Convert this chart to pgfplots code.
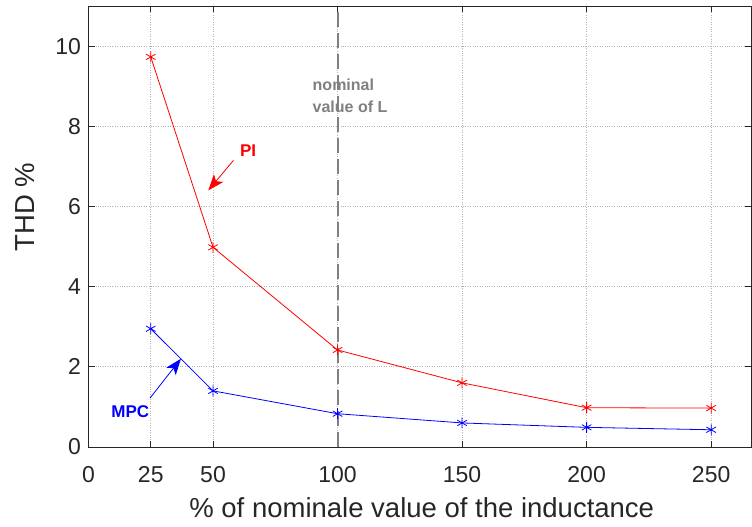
\documentclass[border=0pt]{standalone}
\usepackage{fontspec}
\setmainfont{Liberation Sans}
\usepackage{pgfplots}
\pgfplotsset{compat=1.18}
\usetikzlibrary{arrows.meta}
\definecolor{axgray}{RGB}{38,38,38}
\definecolor{gridgray}{RGB}{180,180,180}
\definecolor{nomgray}{RGB}{128,128,128}
\begin{document}
\begin{tikzpicture}
\useasboundingbox (0,0) rectangle (752pt,527pt);
\begin{axis}[name=ax, at={(88.5pt,80pt)}, anchor=south west,
 scale only axis, width=662.5pt, height=441pt,
 xmin=0, xmax=266, ymin=0, ymax=11,
 xtick={0,25,50,100,150,200,250}, ytick={0,2,4,6,8,10},
 tick align=inside, major tick length=6pt,
 grid=major, grid style={dotted, gridgray, line width=0.8pt},
 axis line style={axgray, line width=0.8pt},
 tick style={axgray, line width=0.8pt},
 ticklabel style={font=\fontsize{23}{27}\selectfont, text=axgray},
 xticklabel style={yshift=-16pt},
 yticklabel style={xshift=-4pt},
 /pgf/number format/assume math mode=true,
 xlabel={\% of nominale value of the inductance},
 ylabel={THD \%},
 label style={font=\fontsize{27.5}{32}\selectfont, text=axgray, inner sep=0pt},
 xlabel style={at={(rel axis cs:0.503,-0.137)}, anchor=center},
 ylabel style={at={(rel axis cs:-0.0958,0.544)}, anchor=center},
 clip=false,
]
\addplot[nomgray, line width=2pt, dash pattern=on 15pt off 6pt] coordinates {(100,0) (100,11)};
\addplot[red, line width=0.8pt, mark=asterisk, mark size=5.5pt] coordinates {(25,9.73) (50,4.98) (100,2.42) (150,1.6) (200,0.98) (250,0.97)};
\addplot[blue, line width=0.8pt, mark=asterisk, mark size=5.5pt] coordinates {(25,2.95) (50,1.4) (100,0.83) (150,0.6) (200,0.49) (250,0.43)};
\node[red, font=\bfseries\fontsize{17}{20}\selectfont] at (axis cs:64.1,7.40) {PI};
\draw[red, line width=0.8pt, -{Stealth[length=16pt,width=12pt,inset=4pt]}] (axis cs:58.2,7.15) -- (axis cs:48.1,6.40);
\node[blue, font=\bfseries\fontsize{17}{20}\selectfont] at (axis cs:16.8,0.87) {MPC};
\draw[blue, line width=0.8pt, -{Stealth[length=16pt,width=12pt,inset=4pt]}] (axis cs:24.7,1.22) -- (axis cs:37.1,2.20);
\node[nomgray, anchor=west, align=left, font=\bfseries\fontsize{16}{22}\selectfont] at (axis cs:88.6,8.75) {nominal\\value of L};
\end{axis}
\end{tikzpicture}
\end{document}
